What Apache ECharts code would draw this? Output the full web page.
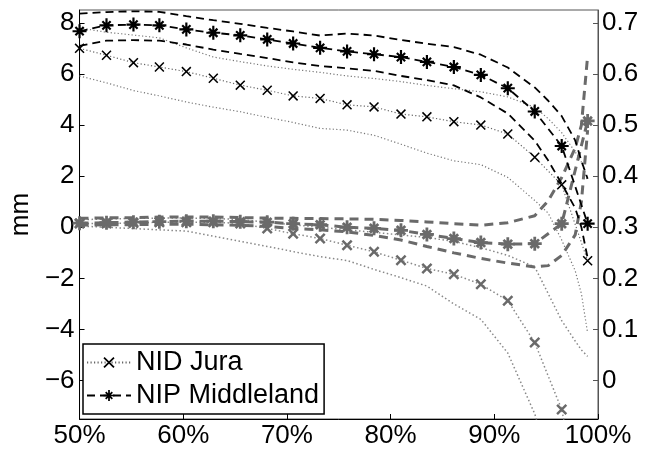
<!DOCTYPE html>
<html>
<head>
<meta charset="utf-8">
<script src="https://cdn.jsdelivr.net/npm/echarts@6/dist/echarts.min.js"></script>
<style>
html,body{margin:0;padding:0;background:#fff}
#chart{width:655px;height:454px}
</style>
</head>
<body>
<div id="chart"></div>
<script>
// x positions (percent) of the markers and of the band curves
const pct = [50,52.6,55.2,57.7,60.3,62.9,65.5,68.1,70.6,73.2,75.8,78.4,81.0,83.5,86.1,88.7,91.3,93.9,96.5,99.0];
const pctBand = [50,52.6,55.2,57.7,60.3,62.9,65.5,68.1,70.6,73.2,75.8,78.4,81.0,83.5,86.1,88.7,91.3,93.9,95.2,96.5,97.8,98.4,99.0];

// left axis (mm)
const nipMid = [7.67,7.9,7.93,7.9,7.74,7.61,7.51,7.35,7.19,7.02,6.88,6.77,6.66,6.47,6.27,5.96,5.44,4.53,3.18,0.14];
const nipUp = [8.36,8.42,8.45,8.43,8.26,8.1,7.96,7.8,7.66,7.5,7.58,7.5,7.33,7.18,7.05,6.75,6.25,5.47,4.95,4.35,3.4,2.6,1.9];
const nipLo = [7.1,7.3,7.32,7.3,7.15,6.95,6.78,6.62,6.45,6.31,6.22,6.12,5.92,5.76,5.55,5.08,4.45,3.39,2.61,1.7,0.75,0.0,-1.2];
const nidMid = [7.0,6.73,6.44,6.27,6.09,5.83,5.56,5.36,5.14,5.04,4.79,4.71,4.43,4.32,4.13,4.0,3.65,2.74,1.66,-1.31];
const nidUp = [7.8,7.63,7.52,7.41,7.02,6.66,6.48,6.31,6.18,6.06,5.92,5.82,5.7,5.55,5.42,5.3,5.1,4.69,4.25,3.7,2.95,2.55,1.83];
const nidLo = [5.92,5.65,5.35,5.14,4.9,4.7,4.52,4.3,4.1,3.87,3.8,3.6,3.25,2.9,2.6,2.45,1.95,1.05,0.55,-0.5,-1.7,-2.6,-4.14];

// right axis
const nipRatio = [0.308,0.309,0.31,0.311,0.312,0.312,0.311,0.31,0.307,0.305,0.3,0.298,0.294,0.286,0.278,0.27,0.267,0.268,0.307,0.508];
const nipRatioUp = [0.3175,0.3185,0.319,0.32,0.32,0.32,0.319,0.318,0.3175,0.317,0.3165,0.3155,0.3135,0.3105,0.307,0.304,0.309,0.3225,0.352,0.3975,0.455,0.5,0.635];
const nipRatioLo = [0.304,0.305,0.305,0.306,0.306,0.305,0.304,0.3015,0.2975,0.295,0.291,0.284,0.275,0.2625,0.25,0.239,0.23,0.2225,0.225,0.245,0.285,0.35,0.49];
const nidRatio = [0.3075,0.3075,0.3085,0.31,0.31,0.31,0.3075,0.2975,0.2875,0.278,0.265,0.252,0.2355,0.2195,0.208,0.1885,0.1565,0.0745,-0.0565,-0.3];
const nidRatioUp = [0.315,0.316,0.3175,0.318,0.318,0.3175,0.315,0.31,0.305,0.3,0.295,0.29,0.285,0.28,0.2725,0.26,0.245,0.2225,0.17,0.1175,0.0775,0.06,0.0475];
const nidRatioLo = [0.3025,0.3,0.2975,0.295,0.2925,0.2825,0.2725,0.2625,0.2525,0.2425,0.235,0.2175,0.2015,0.185,0.15,0.12,0.054,-0.065,-0.15,-0.25,-0.35,-0.4,-0.45];

const leftTicks = [-6,-4,-2,0,2,4,6,8];
const rightTicks = [0,0.1,0.2,0.3,0.4,0.5,0.6,0.7];

// marker shapes
const xThin = 'path://M0,2.2L2.2,0L20,17.8L17.8,20ZM17.8,0L20,2.2L2.2,20L0,17.8Z';
const xBold = 'path://M0,3.2L3.2,0L20,16.8L16.8,20ZM16.8,0L20,3.2L3.2,20L0,16.8Z';
const star = 'path://M0,8.45L20,8.45L20,11.55L0,11.55ZM11.55,0L11.55,20L8.45,20L8.45,0ZM3,5.2L5.2,3L17,14.8L14.8,17ZM14.8,3L17,5.2L5.2,17L3,14.8Z';
const starBold = 'path://M0,8L20,8L20,12L0,12ZM12,0L12,20L8,20L8,0ZM2.5,5.3L5.3,2.5L17.5,14.7L14.7,17.5ZM14.7,2.5L17.5,5.3L5.3,17.5L2.5,14.7Z';

const font = 'Liberation Sans';
const pair = (xs, ys) => xs.map((x, i) => [x, ys[i]]);

function band(name, ys, axis, color, type, width) {
    return { name, type: 'line', yAxisIndex: axis, data: pair(pctBand, ys), symbol: 'none',
        lineStyle: { color, type, width }, silent: true };
}
function center(name, ys, axis, lineColor, type, width, sym, symSize, symColor) {
    return { name, type: 'line', yAxisIndex: axis, data: pair(pct, ys), symbol: sym, symbolSize: symSize,
        showAllSymbol: true, lineStyle: { color: lineColor, type, width }, itemStyle: { color: symColor } };
}

const gray = '#6a6a6a';
const series = [
    // gray series on the right axis
    band('nid r up', nidRatioUp, 1, '#888', [1.5, 2.5], 1.5),
    band('nid r lo', nidRatioLo, 1, '#888', [1.5, 2.5], 1.5),
    center('nid r', nidRatio, 1, '#888', [1.5, 2.5], 1.5, xBold, 11, gray),
    band('nip r up', nipRatioUp, 1, gray, [9, 6], 3),
    band('nip r lo', nipRatioLo, 1, gray, [9, 6], 3),
    center('nip r', nipRatio, 1, gray, [9, 6], 3, starBold, 14, gray),
    // black series on the left axis
    band('nid up', nidUp, 0, '#777', [1.2, 2.3], 1.2),
    band('nid lo', nidLo, 0, '#777', [1.2, 2.3], 1.2),
    center('NID Jura', nidMid, 0, '#666', [1.2, 2.3], 1.2, xThin, 10, '#000'),
    band('nip up', nipUp, 0, '#000', [8, 5], 1.8),
    band('nip lo', nipLo, 0, '#000', [8, 5], 1.8),
    center('NIP Middleland', nipMid, 0, '#000', [8, 5], 1.8, star, 14, '#000')
];

const chart = echarts.init(document.getElementById('chart'));
chart.setOption({
    animation: false,
    grid: { left: 77, right: 57, top: 10, bottom: 35, show: true, borderColor: '#555', borderWidth: 1 },
    legend: {
        data: ['NID Jura', 'NIP Middleland'], orient: 'vertical', left: 83, top: 344,
        itemWidth: 44, itemHeight: 14, itemGap: 6, padding: [5, 5, 5, 3],
        backgroundColor: '#fff', borderColor: '#000', borderWidth: 1.5,
        textStyle: { fontSize: 27, fontFamily: font, color: '#000' }
    },
    xAxis: {
        type: 'value', min: 50, max: 100, interval: 10,
        axisLine: { onZero: false, lineStyle: { color: '#000', width: 1 } },
        axisTick: { inside: true, length: 5, lineStyle: { color: '#000' } },
        axisLabel: { formatter: '{value}%', fontSize: 26, fontFamily: font, color: '#000', margin: 4 },
        splitLine: { show: false }
    },
    yAxis: [{
        type: 'value', min: -7.5, max: 8.5, position: 'left',
        name: 'mm', nameLocation: 'middle', nameGap: 40, nameRotate: 90,
        nameTextStyle: { fontSize: 26, fontFamily: font, color: '#000' },
        axisLine: { show: true, onZero: false, lineStyle: { color: '#000', width: 1 } },
        axisTick: { show: true, inside: true, length: 5, customValues: leftTicks, lineStyle: { color: '#000' } },
        axisLabel: { customValues: leftTicks, fontSize: 26, fontFamily: font, color: '#000', margin: 5,
            formatter: v => String(v).replace('-', '\u2212') },
        splitLine: { show: false }
    }, {
        type: 'value', min: -0.075, max: 0.725, position: 'right',
        axisLine: { show: true, onZero: false, lineStyle: { color: '#555', width: 1 } },
        axisTick: { show: true, inside: true, length: 5, customValues: rightTicks, lineStyle: { color: '#555' } },
        axisLabel: { customValues: rightTicks, fontSize: 26, fontFamily: font, color: '#000', margin: 4,
            formatter: v => String(+v.toFixed(1)) },
        splitLine: { show: false }
    }],
    series: series
});
window.addEventListener('resize', () => chart.resize());
</script>
</body>
</html>
